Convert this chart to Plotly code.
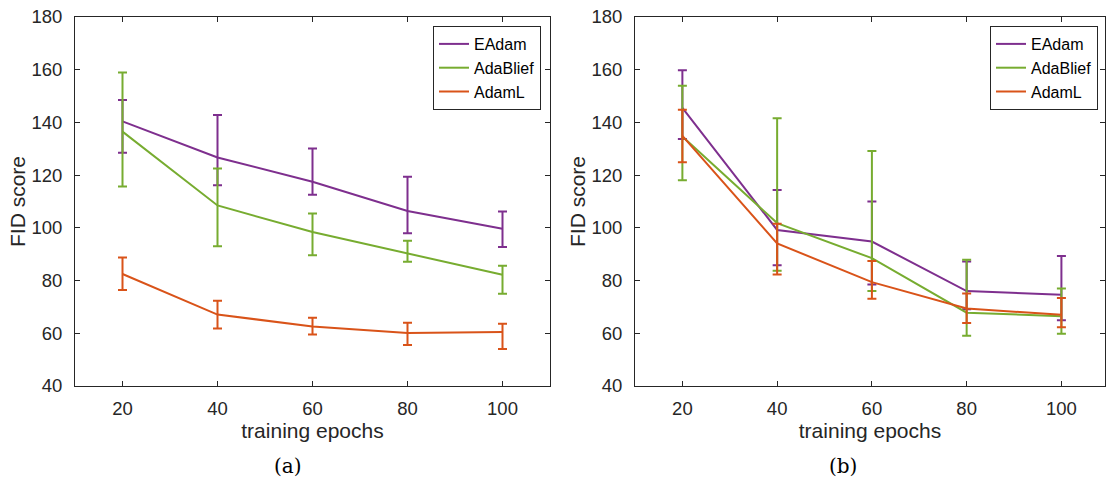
import plotly.graph_objects as go

epochs = [20, 40, 60, 80, 100]

# Panel (a)
a_eadam = [140.4, 126.7, 117.5, 106.4, 99.7]
a_eadam_hi = [148.5, 142.8, 130.1, 119.4, 106.2]
a_eadam_lo = [128.5, 116.2, 112.6, 98.0, 92.7]
a_adab = [136.5, 108.5, 98.4, 90.2, 82.2]
a_adab_hi = [158.9, 122.5, 105.4, 95.1, 85.6]
a_adab_lo = [115.7, 93.0, 89.6, 87.1, 75.0]
a_adaml = [82.5, 67.1, 62.6, 60.1, 60.5]
a_adaml_hi = [88.8, 72.3, 65.9, 64.0, 63.6]
a_adaml_lo = [76.4, 61.8, 59.5, 55.6, 54.0]

# Panel (b)
b_eadam = [145.5, 99.2, 94.8, 76.0, 74.6]
b_eadam_hi = [159.8, 114.4, 110.0, 87.2, 89.3]
b_eadam_lo = [133.7, 85.8, 78.5, 69.1, 64.9]
b_adab = [134.7, 101.8, 88.5, 67.8, 66.5]
b_adab_hi = [153.9, 141.6, 129.2, 87.9, 77.0]
b_adab_lo = [118.1, 83.7, 76.0, 59.1, 59.8]
b_adaml = [134.9, 94.1, 79.4, 69.4, 67.0]
b_adaml_hi = [144.8, 101.6, 87.4, 75.1, 73.4]
b_adaml_lo = [124.9, 82.3, 73.1, 63.9, 62.3]

names = ["EAdam", "AdaBlief", "AdamL"]
colors = ["#7E2F8E", "#77AC30", "#D95319"]

panels = [
    ([a_eadam, a_adab, a_adaml], [a_eadam_hi, a_adab_hi, a_adaml_hi], [a_eadam_lo, a_adab_lo, a_adaml_lo]),
    ([b_eadam, b_adab, b_adaml], [b_eadam_hi, b_adab_hi, b_adaml_hi], [b_eadam_lo, b_adab_lo, b_adaml_lo]),
]

fig = go.Figure()
for p, (vals, his, los) in enumerate(panels):
    xa = "x" if p == 0 else "x2"
    ya = "y" if p == 0 else "y2"
    lg = "legend" if p == 0 else "legend2"
    for name, col, v, hi, lo in zip(names, colors, vals, his, los):
        fig.add_trace(go.Scatter(
            x=epochs, y=v, mode="lines", name=name,
            line=dict(color=col, width=2),
            error_y=dict(type="data", symmetric=False,
                         array=[h - c for h, c in zip(hi, v)],
                         arrayminus=[c - l for c, l in zip(v, lo)],
                         color=col, thickness=2, width=4.5),
            xaxis=xa, yaxis=ya, legend=lg,
        ))

W, H = 1106, 480
axcol = "#262626"
FONT = "Liberation Sans, Arial, sans-serif"
tickfont = dict(family=FONT, size=18.5, color=axcol)
titlefont = dict(family=FONT, size=21, color=axcol)

def xaxis(dom, rng):
    return dict(domain=dom, range=rng, tickvals=epochs, ticks="inside", ticklen=5,
                tickcolor=axcol, showline=True, linecolor=axcol, linewidth=1,
                mirror="ticks", showgrid=False, zeroline=False, tickfont=tickfont,
                automargin=False, ticklabelstandoff=6,
                title=dict(text="training epochs", font=titlefont, standoff=3))

def yaxis(anchor):
    return dict(domain=[1 - 386 / H, 1 - 17 / H], range=[40, 180], dtick=20,
                ticks="inside", ticklen=5, tickcolor=axcol, showline=True,
                linecolor=axcol, linewidth=1, mirror="ticks", showgrid=False,
                zeroline=False, tickfont=tickfont, anchor=anchor, automargin=False,
                ticklabelstandoff=8,
                title=dict(text="FID score", font=titlefont, standoff=0))

legstyle = dict(bgcolor="white", bordercolor=axcol, borderwidth=1,
                font=dict(family=FONT, size=16, color="#000000"),
                xanchor="right", yanchor="top", tracegroupgap=0, itemwidth=30)

capfont = dict(family="DejaVu Serif, serif", size=20, color="#000")
fig.update_layout(
    width=W, height=H, margin=dict(l=0, r=0, t=0, b=0, autoexpand=False),
    paper_bgcolor="white", plot_bgcolor="white",
    xaxis=xaxis([75 / W, 550 / W], [10, 110]),
    yaxis=yaxis("x"),
    xaxis2={**xaxis([635 / W, 1105 / W], [10, 109.2]), "anchor": "y2"},
    yaxis2=yaxis("x2"),
    legend={**legstyle, "x": 541 / W, "y": 1 - 26 / H},
    legend2={**legstyle, "x": 1098 / W, "y": 1 - 26 / H},
    annotations=[
        dict(text="(a)", x=288 / W, y=1 - 466 / H, xref="paper", yref="paper",
             xanchor="center", yanchor="middle", showarrow=False, font=capfont),
        dict(text="(b)", x=843 / W, y=1 - 466 / H, xref="paper", yref="paper",
             xanchor="center", yanchor="middle", showarrow=False, font=capfont),
    ],
)

fig.write_html("out.html")
